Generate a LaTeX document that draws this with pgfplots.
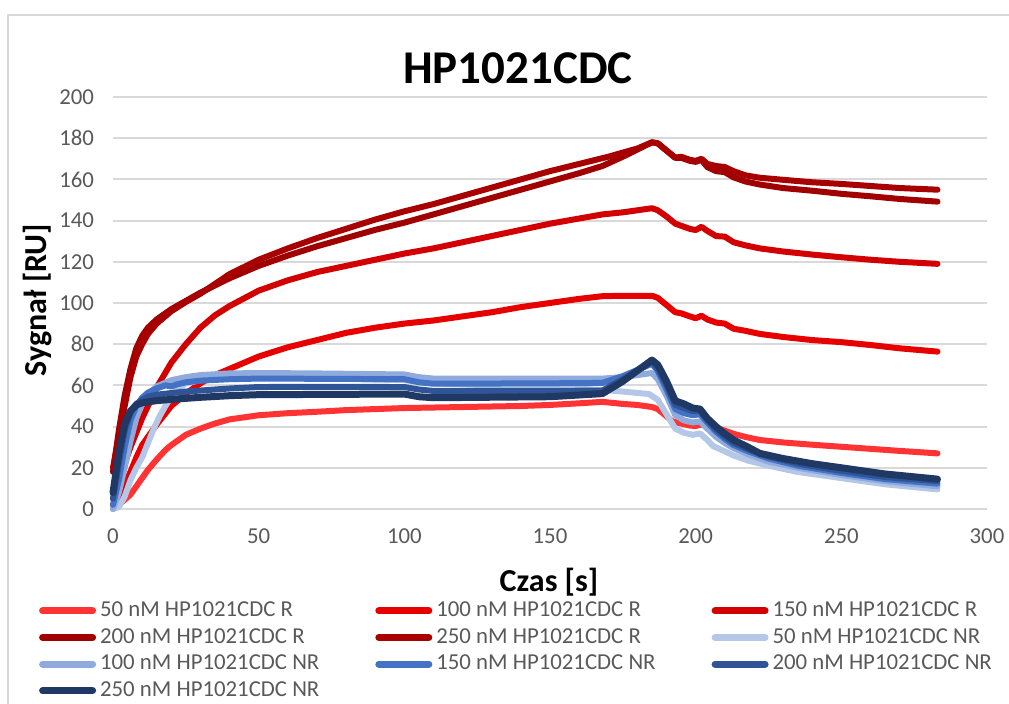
\documentclass[border=0pt]{standalone}
\usepackage{pgfplots}
\pgfplotsset{compat=1.18}
\usepackage{fontspec}
\setmainfont{Carlito}
\definecolor{gridgray}{HTML}{D9D9D9}
\definecolor{txtgray}{HTML}{595959}
\definecolor{rA}{HTML}{FF3333}
\definecolor{rB}{HTML}{E60000}
\definecolor{rC}{HTML}{D20000}
\definecolor{rD}{HTML}{A00000}
\definecolor{rE}{HTML}{A80000}
\definecolor{bA}{HTML}{B4C7E7}
\definecolor{bB}{HTML}{8FAADC}
\definecolor{bC}{HTML}{4472C4}
\definecolor{bD}{HTML}{2F5597}
\definecolor{bE}{HTML}{203864}
\begin{document}
\begin{tikzpicture}
\path[use as bounding box] (0,0) rectangle (504.5pt,352pt);
\draw[gridgray, line width=1pt] (4pt,0pt) -- (4pt,344.5pt) -- (504.5pt,344.5pt);
\node[font=\fontsize{23.5}{28}\selectfont\bfseries] at (259pt,318pt) {HP1021CDC};
\node[font=\fontsize{16}{19}\selectfont\bfseries] at (274.5pt,61pt) {Czas [s]};
\node[font=\fontsize{16}{19}\selectfont\bfseries, rotate=90] at (19pt,202pt) {Sygnał [RU]};
\begin{axis}[
  scale only axis, width=437pt, height=206pt,
  at={(56.5pt,97.5pt)}, anchor=south west,
  xmin=0, xmax=300, ymin=0, ymax=200,
  xtick={0,50,...,300}, ytick={0,20,...,200},
  ymajorgrids, grid style={gridgray, line width=1pt},
  axis line style={draw=none}, tick style={draw=none},
  /pgf/number format/assume math mode=true,
  ticklabel style={font=\fontsize{11.4}{13.7}\selectfont, text=txtgray},
  yticklabel style={xshift=-6pt},
  xticklabel style={yshift=-6.5pt},
  clip=false,
  every axis plot/.append style={line width=3pt, line join=round, line cap=round},
  legend columns=3,
  legend cell align=left,
  legend image code/.code={\draw[#1, line width=3.5pt, line cap=round] (0pt,0pt) -- (25pt,0pt);},
  legend style={draw=none, fill=none, at={(-0.085,-0.215)}, anchor=north west,
    font=\fontsize{11.4}{13.7}\selectfont, text=txtgray, inner sep=0pt, row sep=0.4pt,
    /tikz/every even column/.append style={column sep=26pt}},
]
% 50 nM R
\addplot[rA] coordinates {(0,0)(2,2)(4,4.5)(6,7)(8,11)(10,15)(12,19)(15,24)(18,28.6)(20,31)(25,36)(30,39)(35,41.5)(40,43.5)(50,45.5)(60,46.5)(70,47.2)(80,48)(90,48.5)(100,49)(120,49.5)(140,50)(150,50.5)(160,51.3)(168,52)(175,51)(180,50.5)(185,49.5)(187,48.5)(190,45)(192,42.5)(195,41.5)(198,40.5)(200,40.3)(202,41)(204,40.5)(207,39.5)(210,38)(213,36.5)(217,35)(222,33.5)(230,32.3)(240,31.2)(250,30.2)(260,29.2)(270,28.2)(283,27)};
\addlegendentry{50 nM HP1021CDC R}
% 100 nM R
\addplot[rB] coordinates {(0,2)(2,6)(4,12)(6,18)(8,25)(10,31)(12,35)(15,41)(20,50)(25,56)(30,61)(35,65)(40,68)(50,74)(60,78.5)(70,82)(80,85.5)(90,88)(100,90)(110,91.5)(120,93.5)(130,95.5)(140,98)(150,100)(160,102)(168,103.3)(175,103.5)(185,103.5)(187,102.5)(190,99)(193,95.5)(195,95)(198,93.5)(200,92.6)(202,93.8)(204,92)(207,90.5)(210,90)(213,87.5)(217,86.5)(222,85)(230,83.5)(240,82)(250,81)(260,79.6)(270,78)(283,76.4)};
\addlegendentry{100 nM HP1021CDC R}
% 150 nM R
\addplot[rC] coordinates {(0,5)(2,12)(4,22)(6,30)(8,37)(10,44)(12,50)(15,59)(20,71)(25,80)(30,88)(35,94)(40,98.5)(50,106)(60,111)(70,115)(80,118)(90,121)(100,124)(110,126.5)(120,129.5)(130,132.5)(140,135.5)(150,138.5)(160,141)(168,143)(175,144)(180,145)(185,146)(187,145)(190,142)(193,138.5)(195,137.5)(198,136)(200,135.4)(202,137)(204,135)(207,132.5)(210,132.2)(213,129.5)(217,128)(222,126.5)(230,125)(240,123.5)(250,122.2)(260,121)(270,120)(283,119)};
\addlegendentry{150 nM HP1021CDC R}
% 200 nM R
\addplot[rD] coordinates {(0,18)(2,38)(4,55)(6,68)(8,78)(10,84)(12,88)(15,92)(20,97)(25,101)(30,105)(40,112)(50,118)(60,123)(70,127.5)(80,131.5)(90,135.5)(100,139)(110,143)(120,147)(130,151)(140,155)(150,159)(160,163)(168,166.5)(175,171)(180,174.5)(185,178)(187,177.5)(190,174)(193,170.5)(195,170.5)(198,169)(200,168.5)(202,169.5)(204,166)(207,164)(210,163.5)(213,161)(217,159)(222,157.5)(230,155.8)(240,154.5)(250,153)(260,151.8)(270,150.5)(283,149.2)};
\addlegendentry{200 nM HP1021CDC R}
% 250 nM R
\addplot[rE] coordinates {(0,20)(2,35)(4,50)(6,64)(8,74)(10,80)(12,85)(15,90)(20,96)(25,100.5)(30,104.5)(40,114)(50,121)(60,126.5)(70,131.5)(80,136)(90,140.5)(100,144.5)(110,148)(120,152)(130,156)(140,160)(150,164)(160,167.5)(170,171)(180,175)(185,178)(187,177.5)(190,174)(193,170.5)(195,171)(198,169.5)(200,169)(202,170)(204,167.5)(207,166.5)(210,166)(213,164)(217,162)(222,160.8)(230,159.8)(240,158.6)(250,157.8)(260,156.8)(270,155.8)(283,155)};
\addlegendentry{250 nM HP1021CDC R}
% 50 nM NR
\addplot[bA] coordinates {(0,0)(2,1)(4,6)(6,14)(8,20)(10,25)(12,32)(14,39)(16,45)(18,50)(20,54.5)(22,58)(25,61)(30,62.5)(40,63.5)(50,64)(70,63.5)(100,62.5)(110,61)(130,60)(150,59)(168,57.8)(175,57)(184,55.8)(187,53)(190,46)(193,39)(196,37)(199,36)(201.5,36.7)(204,33.5)(206,30.5)(210,28)(213,26)(218,23.5)(225,21)(235,18)(250,15)(265,12)(283,9.5)};
\addlegendentry{50 nM HP1021CDC NR}
% 100 nM NR
\addplot[bB] coordinates {(0,0)(2,8)(4,20)(6,33)(8,44)(10,51)(12,55.5)(15,59.5)(20,62.5)(25,64)(30,65)(40,65.8)(50,66)(70,65.8)(100,65.3)(105,64)(110,63.3)(150,63.3)(168,63.3)(175,64)(185,66)(187,63)(190,55)(193,45.5)(196,43)(199,42)(201.5,42.5)(204,39)(207,35)(210,32)(213,29.5)(218,26.5)(225,23)(235,20)(250,16.5)(265,13.5)(283,11)};
\addlegendentry{100 nM HP1021CDC NR}
% 150 nM NR
\addplot[bC] coordinates {(0,2)(2,14)(4,30)(6,43)(8,50)(10,54)(12,56.5)(15,58.5)(18,60)(20,59.5)(22,60.5)(25,61.5)(30,62.3)(40,63)(50,63.3)(70,63.2)(100,63)(105,61.5)(110,60.8)(150,61)(168,61.2)(175,64.5)(185,70.5)(187,67)(190,58)(193,48.5)(196,46.5)(199,45.5)(201.5,46)(204,42)(207,37.5)(210,34)(213,31)(218,28)(225,24.5)(235,21)(250,17.5)(265,14.5)(283,12.3)};
\addlegendentry{150 nM HP1021CDC NR}
% 200 nM NR
\addplot[bD] coordinates {(0,5)(2,22)(4,38)(6,47)(8,51)(10,53)(12,54.5)(15,55.5)(20,56.3)(25,57)(30,57.5)(40,58.5)(50,59.2)(70,59.3)(100,59.2)(105,58)(110,57.3)(150,57.3)(168,57.5)(175,63)(185,71.5)(187,68)(190,60)(193,50.5)(196,49)(199,47.5)(201.5,47.5)(204,43)(207,38.5)(210,35)(213,32)(218,29)(225,25.5)(235,22)(250,18.5)(265,15.5)(283,13.5)};
\addlegendentry{200 nM HP1021CDC NR}
% 250 nM NR
\addplot[bE, line width=3.5pt] coordinates {(0,8)(2,27)(4,41)(6,47.5)(8,50.5)(10,51.5)(12,52)(15,52.6)(20,53.2)(30,54.2)(40,55)(50,55.5)(70,55.6)(100,55.8)(105,54.5)(110,54)(150,54.5)(168,56)(175,62)(185,72.3)(187,70)(190,62)(193,52.5)(196,51)(199,49)(201.5,48.5)(204,44)(207,40)(210,36.5)(213,33.5)(218,30)(222,27)(230,24.5)(240,22)(250,20)(265,17)(283,14.5)};
\addlegendentry{250 nM HP1021CDC NR}
\end{axis}
\end{tikzpicture}
\end{document}
